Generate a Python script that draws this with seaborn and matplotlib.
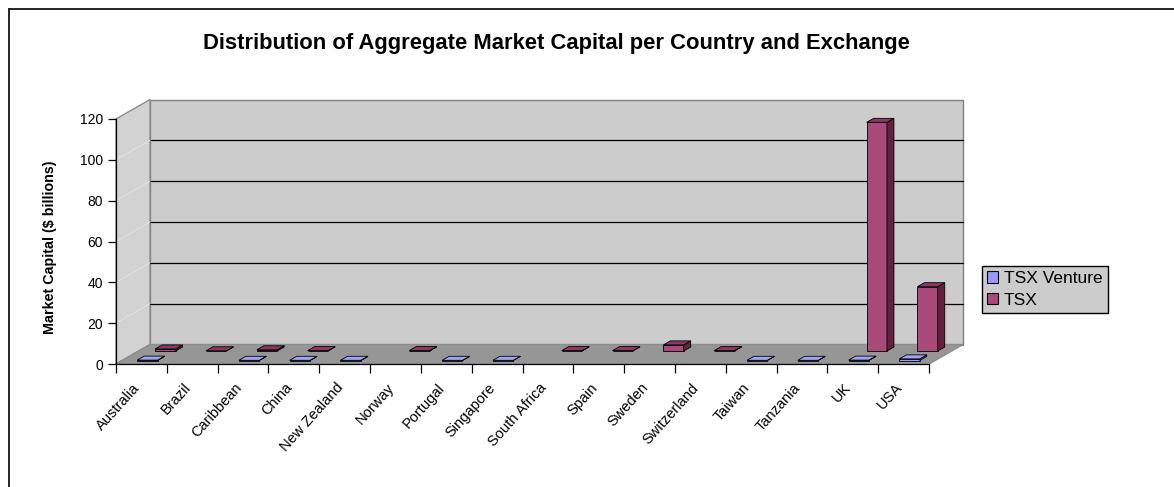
import numpy as np
import pandas as pd
import matplotlib
matplotlib.use("Agg")
import matplotlib.pyplot as plt
import seaborn as sns
from matplotlib.patches import Polygon, Patch
from matplotlib.lines import Line2D
from matplotlib.transforms import ScaledTranslation, IdentityTransform

# ---- data ($ billions) ----
countries = ["Australia", "Brazil", "Caribbean", "China", "New Zealand", "Norway",
             "Portugal", "Singapore", "South Africa", "Spain", "Sweden", "Switzerland",
             "Taiwan", "Tanzania", "UK", "USA"]
tsx_venture = [0.2, np.nan, 0.1, 0.1, 0.1, np.nan, 0.1, 0.1, np.nan, np.nan,
               np.nan, np.nan, 0.1, 0.1, 0.2, 0.8]
tsx = [1.0, 0.1, 0.6, 0.2, np.nan, 0.2, np.nan, np.nan, 0.2, 0.2,
       3.0, 0.2, np.nan, np.nan, 112.0, 31.5]
series_names = ["TSX Venture", "TSX"]
y_ticks = [0, 20, 40, 60, 80, 100, 120]
title = "Distribution of Aggregate Market Capital per Country and Exchange"
y_label = "Market Capital ($ billions)"

df = pd.DataFrame({
    "country": countries * 2,
    "value": tsx_venture + tsx,
    "exchange": [series_names[0]] * len(countries) + [series_names[1]] * len(countries),
})

# ---- styling ----
sns.set_style("white")
plt.rcParams["font.family"] = ["Liberation Sans", "DejaVu Sans"]
for key in ("text.color", "axes.labelcolor", "xtick.color", "ytick.color"):
    plt.rcParams[key] = "black"

W, H, DPI = 1174, 487, 100
fig = plt.figure(figsize=(W / DPI, H / DPI), dpi=DPI)
fig.patch.set_facecolor("white")
ax = fig.add_axes([116 / W, (H - 364) / H, 813 / W, 245 / H])
ax.patch.set_visible(False)

styles = {
    "TSX": dict(face="#A94A7A", top="#8C3862", side="#64213F", shift=(24, 13), z=1.0),
    "TSX Venture": dict(face="#9999FF", top="#A0A4F4", side="#6E6EC0", shift=(6, 3.5), z=2.0),
}
DEPTH = (34, 19.5)       # wall depth in pixels
BAR_DEPTH = (7, 4)       # bar depth in pixels

# back row first, then front row
containers = {}
for name in ["TSX", "TSX Venture"]:
    st = styles[name]
    sns.barplot(data=df[df.exchange == name], x="country", y="value", order=countries,
                color=st["face"], saturation=1, width=0.4, errorbar=None, ax=ax,
                edgecolor="black", linewidth=0.6, zorder=st["z"])
    containers[name] = ax.containers[-1]

ax.set_xlim(-0.5, len(countries) - 0.5)
ax.set_ylim(y_ticks[0], y_ticks[-1])

def px(x, y):
    return ax.transData.transform((x, y))

ident = IdentityTransform()

# ---- walls and floor ----
(x0, y0) = px(-0.5, y_ticks[0])
(x1, _) = px(len(countries) - 0.5, y_ticks[0])
(_, y1) = px(-0.5, y_ticks[-1])
dx, dy = DEPTH
back = Polygon([(x0 + dx, y0 + dy), (x1 + dx, y0 + dy), (x1 + dx, y1 + dy), (x0 + dx, y1 + dy)],
               closed=True, fc="#CCCCCC", ec="#808080", lw=1.0, transform=ident, zorder=0.1, clip_on=False)
side = Polygon([(x0, y0), (x0 + dx, y0 + dy), (x0 + dx, y1 + dy), (x0, y1)],
               closed=True, fc="#D2D2D2", ec="#8C8C8C", lw=1.0, transform=ident, zorder=0.15, clip_on=False)
floor = Polygon([(x0, y0), (x1, y0), (x1 + dx, y0 + dy), (x0 + dx, y0 + dy)],
                closed=True, fc="#969696", ec="#8C8C8C", lw=1.0, transform=ident, zorder=0.2, clip_on=False)
for p in (back, side, floor):
    ax.add_artist(p)

for v in y_ticks[1:-1]:
    _, yv = px(-0.5, v)
    ax.add_artist(Line2D([x0 + dx, x1 + dx], [yv + dy, yv + dy], color="black", lw=0.9,
                         transform=ident, zorder=0.3, clip_on=False))
    ax.add_artist(Line2D([x0, x0 + dx], [yv, yv + dy], color="#E4E4E4", lw=0.7,
                         transform=ident, zorder=0.3, clip_on=False))

# ---- 3D bar faces ----
bx, by = BAR_DEPTH
for name, cont in containers.items():
    st = styles[name]
    sx, sy = st["shift"]
    off = ax.transData + ScaledTranslation(sx / DPI, sy / DPI, fig.dpi_scale_trans)
    for bar in cont.patches:
        bar.set_transform(off)
        bar.set_clip_on(False)
        xa, ya = px(bar.get_x(), 0)
        xb, yb = px(bar.get_x() + bar.get_width(), bar.get_height())
        xa += sx; xb += sx; ya += sy; yb += sy
        top = Polygon([(xa, yb), (xb, yb), (xb + bx, yb + by), (xa + bx, yb + by)], closed=True,
                      fc=st["top"], ec="black", lw=0.6, transform=ident, zorder=st["z"], clip_on=False)
        sd = Polygon([(xb, ya), (xb + bx, ya + by), (xb + bx, yb + by), (xb, yb)], closed=True,
                     fc=st["side"], ec="black", lw=0.6, transform=ident, zorder=st["z"], clip_on=False)
        ax.add_artist(sd)
        ax.add_artist(top)

# ---- axes ----
sns.despine(ax=ax)
for s in ("left", "bottom"):
    ax.spines[s].set_color("black")
    ax.spines[s].set_linewidth(0.9)
    ax.spines[s].set_zorder(3)

ax.set_yticks(y_ticks)
ax.tick_params(axis="y", direction="out", length=6, width=0.9, pad=3.5, labelsize=10,
               colors="black", left=True)
ax.set_xticks(range(len(countries)))
ax.set_xticklabels(countries, rotation=48, ha="right", va="top", rotation_mode="anchor")
ax.tick_params(axis="x", which="major", length=0, pad=12, labelsize=10.5, colors="black")
ax.set_xticks(np.arange(-0.5, len(countries), 1.0), minor=True)
ax.tick_params(axis="x", which="minor", direction="out", length=6.5, width=0.9,
               colors="black", bottom=True)
label_shift = ScaledTranslation(-9 / DPI, 0, fig.dpi_scale_trans)
for lab in ax.get_xticklabels():
    lab.set_transform(lab.get_transform() + label_shift)
ax.set_xlabel("")
ax.set_ylabel(y_label, fontsize=10.3, fontweight="bold")
ax.yaxis.set_label_coords(-0.072, 0.478)

fig.text(556 / W, 1 - 44 / H, title, ha="center", va="center", fontsize=15.8, fontweight="bold")

# ---- legend ----
handles = [Patch(facecolor=styles[n]["face"], edgecolor="black", lw=0.8) for n in series_names]
leg = fig.legend(handles, series_names, loc="upper left", bbox_to_anchor=(982 / W, 1 - 266 / H),
                 frameon=True, fancybox=False, framealpha=1, facecolor="#CCCCCC", edgecolor="black",
                 fontsize=12.5, handlelength=0.62, handleheight=0.62, handletextpad=0.35,
                 borderpad=0.3, labelspacing=0.38, borderaxespad=0)
leg.get_frame().set_linewidth(1.0)

# ---- chart area border ----
fig.add_artist(Line2D([8.5 / W, 8.5 / W], [0, 1 - 8.5 / H], transform=fig.transFigure,
                      color="black", lw=1.2))
fig.add_artist(Line2D([8.5 / W, 1], [1 - 8.5 / H, 1 - 8.5 / H], transform=fig.transFigure,
                      color="black", lw=1.2))

fig.savefig("out.png", dpi=DPI)
